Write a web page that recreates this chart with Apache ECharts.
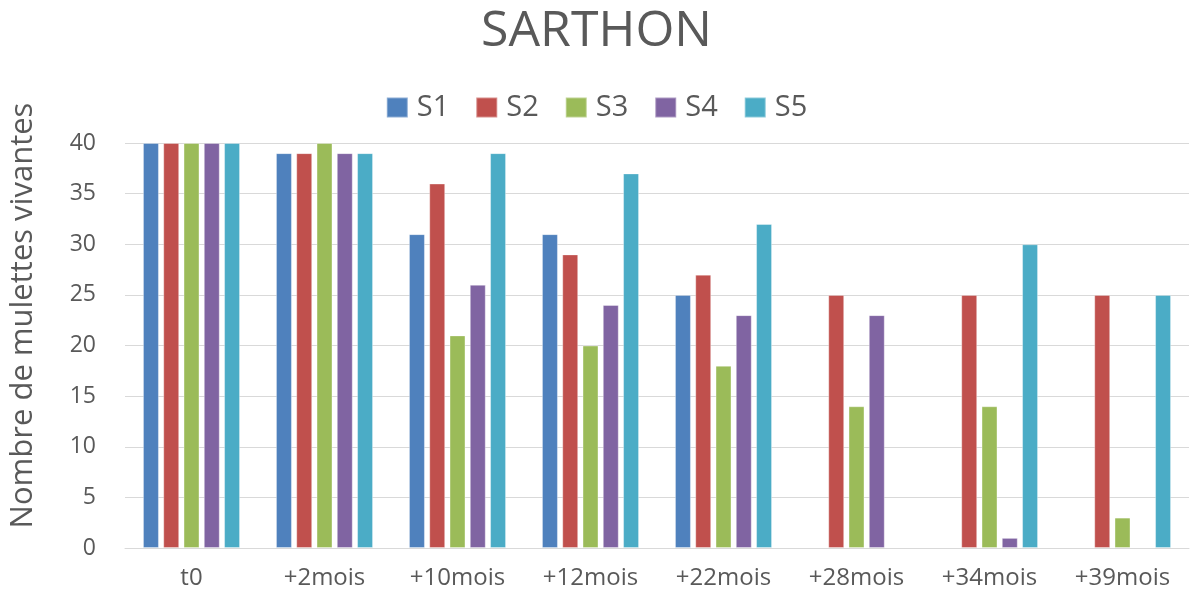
<!DOCTYPE html>
<html>
<head>
<meta charset="utf-8">
<script src="https://cdn.jsdelivr.net/npm/echarts@6/dist/echarts.min.js"></script>
<style>
html, body { margin: 0; padding: 0; background: #fff; }
#chart { width: 1193px; height: 591px; }
</style>
</head>
<body>
<div id="chart"></div>
<script>
var categories = ['t0', '+2mois', '+10mois', '+12mois', '+22mois', '+28mois', '+34mois', '+39mois'];
var seriesNames = ['S1', 'S2', 'S3', 'S4', 'S5'];
var s1 = [40, 39, 31, 31, 25, null, null, null];
var s2 = [40, 39, 36, 29, 27, 25, 25, 25];
var s3 = [40, 40, 21, 20, 18, 14, 14, 3];
var s4 = [40, 39, 26, 24, 23, 23, 1, null];
var s5 = [40, 39, 39, 37, 32, null, 30, 25];
var colors = ['#4F81BD', '#C0504D', '#9BBB59', '#8064A2', '#4BACC6'];

var font = 'Open Sans';
var allData = [s1, s2, s3, s4, s5];
var series = [];
for (var i = 0; i < allData.length; i++) {
    series.push({
        name: seriesNames[i],
        type: 'bar',
        data: allData[i],
        barGap: '27%',
        barCategoryGap: '27%',
        itemStyle: {
            color: colors[i],
            borderColor: 'rgba(255,255,255,0.35)',
            borderWidth: 1
        }
    });
}

var myChart = echarts.init(document.getElementById('chart'));
var option = {
    animation: false,
    color: colors,
    title: {
        text: 'SARTHON',
        left: 'center',
        top: 2,
        textStyle: {fontFamily: font, fontSize: 50, fontWeight: 'normal', color: '#595959'}
    },
    legend: {
        data: seriesNames,
        top: 88,
        left: 'center',
        itemWidth: 21,
        itemHeight: 20,
        itemGap: 26,
        icon: 'rect',
        textStyle: {fontFamily: font, fontSize: 29, color: '#595959', padding: [0, 0, 0, 4]}
    },
    grid: {left: 124, right: 4, top: 143, bottom: 43, containLabel: false},
    xAxis: {
        type: 'category',
        data: categories,
        axisTick: {show: false},
        axisLine: {lineStyle: {color: '#d9d9d9', width: 1}},
        axisLabel: {fontFamily: font, fontSize: 24, color: '#595959', margin: 18}
    },
    yAxis: {
        type: 'value',
        min: 0,
        max: 40,
        interval: 5,
        name: 'Nombre de mulettes vivantes',
        nameLocation: 'middle',
        nameGap: 86,
        nameTextStyle: {fontFamily: font, fontSize: 31, color: '#595959', padding: [0, 0, 0, 60]},
        axisLine: {show: false},
        axisTick: {show: false},
        axisLabel: {fontFamily: font, fontSize: 23, color: '#595959', margin: 29},
        splitLine: {lineStyle: {color: '#d9d9d9', width: 1}}
    },
    series: series
};
myChart.setOption(option);
</script>
</body>
</html>
